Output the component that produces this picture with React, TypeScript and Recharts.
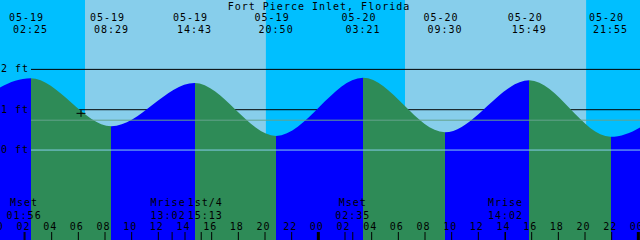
import {
  Area,
  ComposedChart,
  ReferenceArea,
  ReferenceDot,
  ReferenceLine,
  XAxis,
  YAxis,
} from 'recharts';

const title = 'Fort Pierce Inlet, Florida';

// high / low tides, local time; first and last are just outside the window
const tideTimes = [
  '05-18 19:55',
  '05-19 02:25',
  '05-19 08:29',
  '05-19 14:43',
  '05-19 20:50',
  '05-20 03:21',
  '05-20 09:30',
  '05-20 15:49',
  '05-20 21:55',
  '05-21 04:20',
];
const tideFeet = [0.38, 1.78, 0.59, 1.66, 0.35, 1.79, 0.44, 1.73, 0.33, 1.8];

const moonTimes = ['05-19 01:56', '05-19 13:02', '05-19 15:13', '05-20 02:35', '05-20 14:02'];
const moonNames = ['Mset', 'Mrise', '1st/4', 'Mset', 'Mrise'];

const sunriseTimes = ['05-19 06:30', '05-20 06:30'];
const sunsetTimes = ['05-19 20:04', '05-20 20:05'];

const hourTicks = [0, 2, 4, 6, 8, 10, 12, 14, 16, 18, 20, 22, 24, 26, 28, 30, 32, 34, 36, 38, 40, 42, 44, 46, 48];
const depthTicks = [0, 1, 2];
const mslFeet = 0.74;
const nowTime = '05-19 06:12';
const nowFeet = 0.91;

const windowStart = 0.125; // hours after 05-19 00:00
const windowHours = 48;
const windowEnd = windowStart + windowHours;

const W = 640;
const H = 240;
const NIGHT = '#00BFFF';
const DAY = '#87CEEB';
const RISE = '#0000FF';
const FALL = '#2E8B57';

const font = { fontFamily: '"DejaVu Sans Mono", monospace', fontSize: 10, letterSpacing: 1 };

// "MM-DD HH:MM" -> hours after 05-19 00:00
const hours = (s: string): number => {
  const [md, hm] = s.split(' ');
  const day = Number(md.split('-')[1]);
  const [h, m] = hm.split(':').map(Number);
  return (day - 19) * 24 + h + m / 60;
};

const tideData = tideTimes.map((t, i) => ({ t: hours(t), ft: tideFeet[i] }));
const shownTides = tideTimes.filter((t) => hours(t) >= windowStart && hours(t) <= windowEnd);
const moonHours = moonTimes.map(hours);
const shownHours = shownTides.map(hours);

const fillStops = tideTimes.slice(1).flatMap((t, i) => {
  const color = tideFeet[i + 1] > tideFeet[i] ? RISE : FALL;
  const clamp = (v: number) => Math.min(1, Math.max(0, (v - windowStart) / windowHours));
  return [
    { offset: clamp(hours(tideTimes[i])), color },
    { offset: clamp(hours(t)), color },
  ];
});

const labelNudge: Record<number, number> = { 1: -4, 2: 4 };

const HourTick = ({ x, payload }: any) => {
  const midnight = payload.value % 24 === 0;
  const label = String(payload.value % 24).padStart(2, '0');
  return (
    <g>
      <text x={x - 1.5} y={229.5} textAnchor="middle" fill="#000" style={font}>
        {label}
      </text>
      <line x1={x} x2={x} y1={232} y2={H} stroke="#000" strokeWidth={midnight ? 3 : 1} />
    </g>
  );
};

const MoonTick = ({ x, payload }: any) => {
  const i = moonHours.indexOf(payload.value);
  if (i < 0) return <g />;
  const dx = labelNudge[i] ?? 0;
  return (
    <g>
      <text x={x + dx} y={206} textAnchor="middle" fill="#000" style={font}>
        {moonNames[i]}
      </text>
      <text x={x + dx} y={218.5} textAnchor="middle" fill="#000" style={font}>
        {moonTimes[i].split(' ')[1]}
      </text>
      <line x1={x} x2={x} y1={232} y2={H} stroke="#000" strokeWidth={1} />
    </g>
  );
};

const EventTick = ({ x, payload }: any) => {
  const i = shownHours.indexOf(payload.value);
  if (i < 0) return <g />;
  const [date, time] = shownTides[i].split(' ');
  return (
    <g>
      <text x={x - 4} y={21} textAnchor="middle" fill="#000" style={font}>
        {date}
      </text>
      <text x={x} y={33} textAnchor="middle" fill="#000" style={font}>
        {time}
      </text>
    </g>
  );
};

const DepthTick = ({ y, payload }: any) => (
  <text x={1} y={y + 3} textAnchor="start" fill="#000" style={font}>
    {`${payload.value} ft`}
  </text>
);

// depth lines start right of the "n ft" labels
const gapLine = (color: string) => (p: any) => (
  <line x1={p.x1 + 31} y1={p.y1} x2={p.x2} y2={p.y2} stroke={color} strokeWidth={1} />
);

// the 1 ft and 2 ft lines sit behind the water, so they're drawn with the background
const BlackDepthLines = ({ x, y, width, height }: any) => (
  <g stroke="#000" strokeWidth={1}>
    <line x1={x + 31} x2={x + width} y1={y} y2={y} />
    <line x1={x + 31} x2={x + width} y1={y + height} y2={y + height} />
  </g>
);

const PlusMark = ({ cx, cy }: any) => (
  <g stroke="#000" strokeWidth={1}>
    <line x1={cx - 4.5} x2={cx + 4.5} y1={cy} y2={cy} />
    <line x1={cx} x2={cx} y1={cy - 3.5} y2={cy + 3.5} />
  </g>
);

const axisCommon = {
  dataKey: 't',
  type: 'number' as const,
  domain: [windowStart, windowEnd],
  allowDataOverflow: true,
  interval: 0 as const,
  height: 1,
  mirror: true,
  axisLine: false,
  tickLine: false,
};

export default function App() {
  return (
    <div style={{ position: 'absolute', left: 0, top: 0, width: W, height: H, background: NIGHT }}>
      <ComposedChart width={W} height={H} data={tideData} margin={{ top: 0, right: 0, bottom: 0, left: 0 }}>
        <defs>
          <linearGradient id="tideFill" gradientUnits="userSpaceOnUse" x1={0} y1={0} x2={W} y2={0}>
            {fillStops.map((s, i) => (
              <stop key={i} offset={s.offset} stopColor={s.color} />
            ))}
          </linearGradient>
        </defs>
        <XAxis {...axisCommon} ticks={hourTicks} tick={HourTick} />
        <XAxis {...axisCommon} xAxisId="moon" ticks={moonHours} tick={MoonTick} />
        <XAxis {...axisCommon} xAxisId="events" orientation="top" ticks={shownHours} tick={EventTick} />
        <YAxis
          type="number"
          domain={[-2.23, 3.72]}
          allowDataOverflow
          ticks={depthTicks}
          interval={0}
          width={1}
          mirror
          axisLine={false}
          tickLine={false}
          tick={DepthTick}
        />
        {sunriseTimes.map((t, i) => (
          <ReferenceArea
            key={t}
            x1={hours(t)}
            x2={hours(sunsetTimes[i])}
            fill={DAY}
            fillOpacity={1}
            stroke="none"
          />
        ))}
        <ReferenceArea x1={windowStart} x2={windowEnd} y1={1} y2={2} shape={BlackDepthLines} />
        <Area
          dataKey="ft"
          type="monotone"
          stroke="none"
          fill="url(#tideFill)"
          fillOpacity={1}
          baseValue="dataMin"
          dot={false}
          activeDot={false}
          isAnimationActive={false}
        />
        <ReferenceLine y={mslFeet} shape={gapLine('#64A38C')} />
        <ReferenceLine y={0} shape={gapLine('#87CEEB')} />
        <ReferenceDot x={hours(nowTime)} y={nowFeet} shape={PlusMark} />
      </ComposedChart>
      <svg
        width={W}
        height={12}
        style={{ position: 'absolute', left: 0, top: 0, pointerEvents: 'none' }}
      >
        <text x={W / 2 - 1} y={9.5} textAnchor="middle" fill="#000" style={font}>
          {title}
        </text>
      </svg>
    </div>
  );
}
